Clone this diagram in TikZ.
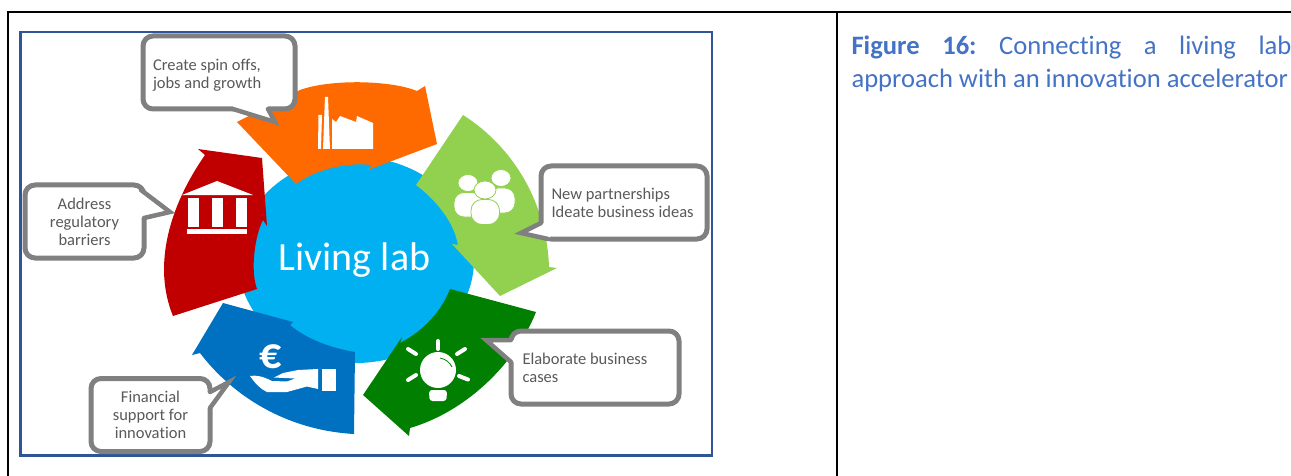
\documentclass[tikz,border=0pt]{standalone}
\usepackage{fontspec}
\setmainfont{Carlito}[Ligatures=NoCommon]
\definecolor{framblue}{HTML}{2F5597}
\definecolor{capblue}{HTML}{4472C4}
\definecolor{labcyan}{HTML}{00B0F0}
\definecolor{orangearrow}{HTML}{FF6A00}
\definecolor{limearrow}{HTML}{92D050}
\definecolor{greenarrow}{HTML}{007F00}
\definecolor{bluearrow}{HTML}{0070C0}
\definecolor{redarrow}{HTML}{C00000}
\definecolor{bubblegray}{HTML}{808080}
\definecolor{bubbletext}{HTML}{595959}
\tikzset{
  bubble/.style={draw=bubblegray,line width=5pt,fill=white,rounded corners=10pt,
    text=bubbletext,font=\fontsize{16.5}{18}\selectfont,inner ysep=0pt,minimum height=73pt},
  bubbletail/.style={draw=bubblegray,line width=4.5pt,miter limit=12,line cap=round},
  icon/.style={fill=white,draw=none},
  iconline/.style={fill=white,draw=limearrow,line width=.8pt},
}
\begin{document}
\begin{tikzpicture}[x=1pt,y=-1pt]
\useasboundingbox (0,0) rectangle (1291,476);
\pgfsetlinewidth{2pt}
% table rules
\draw (7.5,476) -- (7.5,12.5) -- (1291,12.5);
\draw (836.5,12.5) -- (836.5,476);
\draw[framblue,line width=2.5pt] (20.5,32) rectangle (712,455.5);
%
% centre
\fill[labcyan] (356,260) ellipse (118 and 103);
\node[text=white,font=\fontsize{40}{44}\selectfont,inner sep=0pt] (lab) at (354.5,260.5) {Living lab};
%
% arrows
\fill[orangearrow] (237,122) -- (296,184)
  .. controls (315,170) and (345,162) .. (372,165)
  -- (368,170) -- (437,144) -- (425,86) -- (417,91)
  .. controls (390,80) and (330,79) .. (300,90) -- cycle;
\fill[limearrow] (463,115)
  .. controls (515,148) and (547,205) .. (549,267)
  -- (557,268) -- (500,296) -- (452,244) -- (458,245)
  .. controls (454,222) and (436,200) .. (416,185) -- cycle;
\fill[greenarrow] (450,289) -- (536,312)
  .. controls (515,365) and (465,412) .. (410,428)
  -- (409,436) -- (363,395) -- (402,337) -- (400,343)
  .. controls (425,330) and (442,310) .. (450,289) -- cycle;
\fill[bluearrow] (223,303) -- (293,322) -- (290,325)
  .. controls (305,338) and (330,348) .. (355,352)
  -- (354,434)
  .. controls (285,430) and (232,395) .. (200,353)
  -- (192,355) -- cycle;
\fill[redarrow] (198,149) -- (262,158) -- (267,226) -- (263,220)
  .. controls (255,235) and (250,270) .. (257,289)
  -- (173,316)
  .. controls (152,265) and (170,205) .. (205,155) -- cycle;
%
% factory
\fill[icon] (318.5,115) -- (322,115) -- (321,149) -- (318,149) -- cycle;
\fill[icon] (325,97) -- (328,97) -- (330,149) -- (323,149) -- cycle;
\fill[icon] (332,119) -- (336,122) -- (340,116) -- (356,122) -- (357,116) -- (373,123) -- (373,149) -- (332,149) -- cycle;
%
% people
\draw[iconline,rounded corners=10pt] (454,217) -- (454,192.5) -- (482,192.5) -- (482,217) -- cycle;
\draw[iconline,rounded corners=10pt] (488,213) -- (488,188) -- (515,188) -- (515,213) -- cycle;
\draw[iconline] (468,183) ellipse (10 and 8.5);
\draw[iconline] (501,178) ellipse (10 and 8.5);
\draw[iconline] (485,190) ellipse (11 and 9);
\draw[iconline,rounded corners=11pt] (471,224.5) -- (471,199.5) -- (499.5,199.5) -- (499.5,224.5) -- cycle;
%
% bulb
\fill[icon] (438,370) circle (18);
\fill[icon,rounded corners=3pt] (429,390) -- (447,390) -- (446.5,401) -- (429.5,401) -- cycle;
\draw[greenarrow,line width=.8pt] (440,358) to[bend left=25] (452,367);
\foreach \xa/\ya/\xb/\yb in {438/341/438/349,408/349/416/354,465/349/457/354,408/380/416/375,468/379.5/459/376}
\draw[white,line width=4pt,line cap=round] (\xa,\ya) -- (\xb,\yb);
%
% euro and hand
\node[text=white,font=\bfseries\fontsize{44}{48}\selectfont,inner sep=0pt] (euro) at (271,357) {€};
\fill[icon] (322,369) rectangle (336,391);
\fill[icon] (250,376) .. controls (256,375) and (262,376) .. (272,381) -- (287,381.5) -- (295,378.5) -- (274,377.5) -- (283,373) -- (298,370) -- (318,369) -- (318,389) -- (307,386.5) -- (287,392) -- (267,392) .. controls (260,389) and (255,383) .. (250,376) -- cycle;
%
% temple
\fill[icon] (182,195) -- (217,181) -- (253,195) -- cycle;
\foreach \xcol in {188,212,236}
\fill[icon] (\xcol,197.5) rectangle ++(11,29.5);
\fill[icon] (187,229) rectangle (247,234);
%
% callouts
\node[bubble,text width=132pt,inner xsep=10pt,align=flush left] (spin) at (219,72.5) {\rule{0pt}{16pt}Create spin offs,\\jobs and growth};
\fill[white] (233,105) -- (233,109) -- (275,122) -- (268,109) -- (268,105) -- cycle;
\draw[bubbletail] (233,109) -- (275,122) -- (268,109);
%
\node[bubble,text width=145pt,inner xsep=10.5pt,align=flush left] (partner) at (624,202.5) {New partnerships\\Ideate business ideas};
\fill[white] (545,223) -- (541,223) -- (521,233) -- (548,239) -- (552,235) -- cycle;
\draw[bubbletail] (541,223) -- (521,233) -- (548,239);
%
\node[bubble,text width=145pt,inner xsep=11.5pt,align=flush left] (cases) at (595,367.5) {Elaborate business\\cases};
\fill[white] (516,340) -- (511,340) -- (486,340) -- (511,362) -- (516,362) -- cycle;
\draw[bubbletail] (511,340) -- (486,340) -- (511,362);
%
\node[bubble,text width=99pt,inner xsep=10pt,align=flush center] (finance) at (150.5,415) {Financial\\support for\\innovation};
\fill[white] (206,392) -- (210,392) -- (229,382) -- (210,408) -- (206,408) -- cycle;
\draw[bubbletail] (210,392) -- (229,382) -- (210,408);
%
\node[bubble,text width=99pt,inner xsep=10pt,align=flush center] (barrier) at (84.5,221.5) {Address\\regulatory\\barriers};
\fill[white] (137,194) -- (141,190) -- (170,212) -- (144,218) -- (140,218) -- cycle;
\draw[bubbletail] (141,190) -- (170,212) -- (144,218);
%
% caption
\node[text=capblue,font=\fontsize{26.6}{33}\selectfont,inner sep=0pt,anchor=north west,align=flush left] (caption) at (850.5,35)
{\frenchspacing\makebox[440pt][s]{\textbf{Figure 16:} Connecting a living lab}\\approach with an innovation accelerator};
\end{tikzpicture}
\end{document}
